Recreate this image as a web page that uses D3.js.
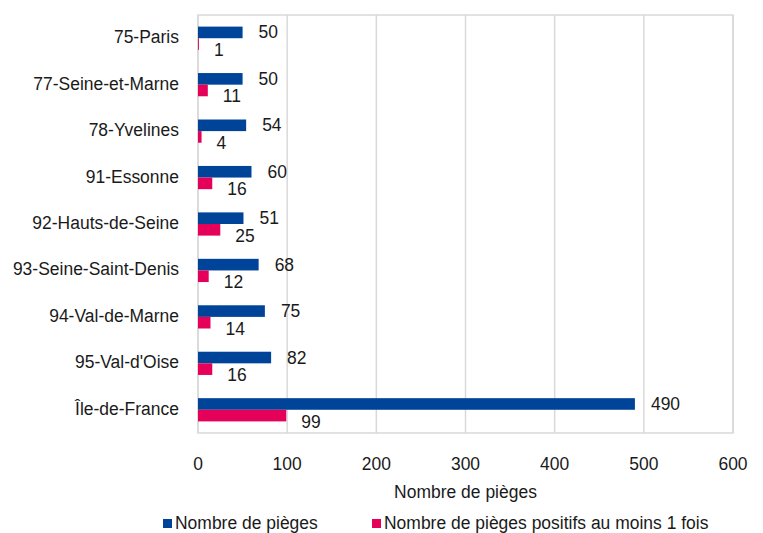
<!DOCTYPE html>
<html>
<head>
<meta charset="utf-8">
<script src="https://cdn.jsdelivr.net/npm/d3@7"></script>
<style>
  body { margin: 0; background: #fff; }
  text { font-family: "Liberation Sans", Arial, sans-serif; fill: #1a1a1a; }
</style>
</head>
<body>
<div id="chart"></div>
<script>
// Data
const departements = ["75-Paris", "77-Seine-et-Marne", "78-Yvelines", "91-Essonne",
  "92-Hauts-de-Seine", "93-Seine-Saint-Denis", "94-Val-de-Marne", "95-Val-d'Oise", "Île-de-France"];
const nbPieges = [50, 50, 54, 60, 51, 68, 75, 82, 490];
const nbPositifs = [1, 11, 4, 16, 25, 12, 14, 16, 99];
const xTicks = [0, 100, 200, 300, 400, 500, 600];
const seriesNames = ["Nombre de pièges", "Nombre de pièges positifs au moins 1 fois"];
const colors = ["#00449A", "#E5005A"];

// Dimensions
const W = 763, H = 533;
const margin = { top: 15, right: 30, bottom: 100, left: 198 };
const width = W - margin.left - margin.right;
const height = H - margin.top - margin.bottom;
const fontSize = 19;
const squeeze = 0.92; // the source font looks slightly condensed

const svg = d3.select("#chart")
  .append("svg")
  .attr("width", W)
  .attr("height", H);

const g = svg.append("g")
  .attr("transform", `translate(${margin.left},${margin.top})`);

// condensed text helper
function label(parent, px, py, str, anchor) {
  return parent.append("text")
    .attr("transform", `translate(${px},${py}) scale(${squeeze},1)`)
    .attr("text-anchor", anchor || "start")
    .attr("dominant-baseline", "middle")
    .attr("font-size", fontSize)
    .text(str);
}

// Scales
const x = d3.scaleLinear().domain([0, 600]).range([0, width]);
const y = d3.scaleBand().domain(departements).range([0, height]).paddingInner(0.5).paddingOuter(0.25);
const ySub = d3.scaleBand().domain([0, 1]).range([0, y.bandwidth()]);

// Gridlines
g.selectAll(".grid")
  .data(xTicks)
  .join("line")
  .attr("x1", d => x(d))
  .attr("x2", d => x(d))
  .attr("y1", 0)
  .attr("y2", height)
  .attr("stroke", "#d9d9d9")
  .attr("stroke-width", 1.5);

// Plot border
g.append("rect")
  .attr("x", 0).attr("y", 0)
  .attr("width", width).attr("height", height)
  .attr("fill", "none")
  .attr("stroke", "#d9d9d9")
  .attr("stroke-width", 1.5);

// Bars + value labels
const series = [nbPieges, nbPositifs];
series.forEach((vals, s) => {
  g.selectAll(".bar" + s)
    .data(departements)
    .join("rect")
    .attr("x", x(0))
    .attr("y", d => y(d) + ySub(s))
    .attr("width", (d, i) => x(vals[i]) - x(0))
    .attr("height", ySub.bandwidth())
    .attr("fill", colors[s]);

  departements.forEach((d, i) => {
    label(g,
      x(vals[i]) + (s === 0 ? 16 : 15),
      y(d) + ySub(s) + ySub.bandwidth() / 2 + (s === 0 ? 1 : 7),
      vals[i]);
  });
});

// Category labels
departements.forEach(d => {
  label(g, -19, y(d) + y.bandwidth() / 2, d, "end");
});

// X tick labels
xTicks.forEach(t => label(g, x(t), height + 32, t, "middle"));

// Axis title
label(g, width / 2, height + 60, "Nombre de pièges", "middle");

// Legend
const legendX = [163, 372];
const legendY = 524;
seriesNames.forEach((name, s) => {
  svg.append("rect")
    .attr("x", legendX[s])
    .attr("y", legendY - 5)
    .attr("width", 9)
    .attr("height", 9)
    .attr("fill", colors[s]);
  label(svg, legendX[s] + 12, legendY, name);
});
</script>
</body>
</html>
